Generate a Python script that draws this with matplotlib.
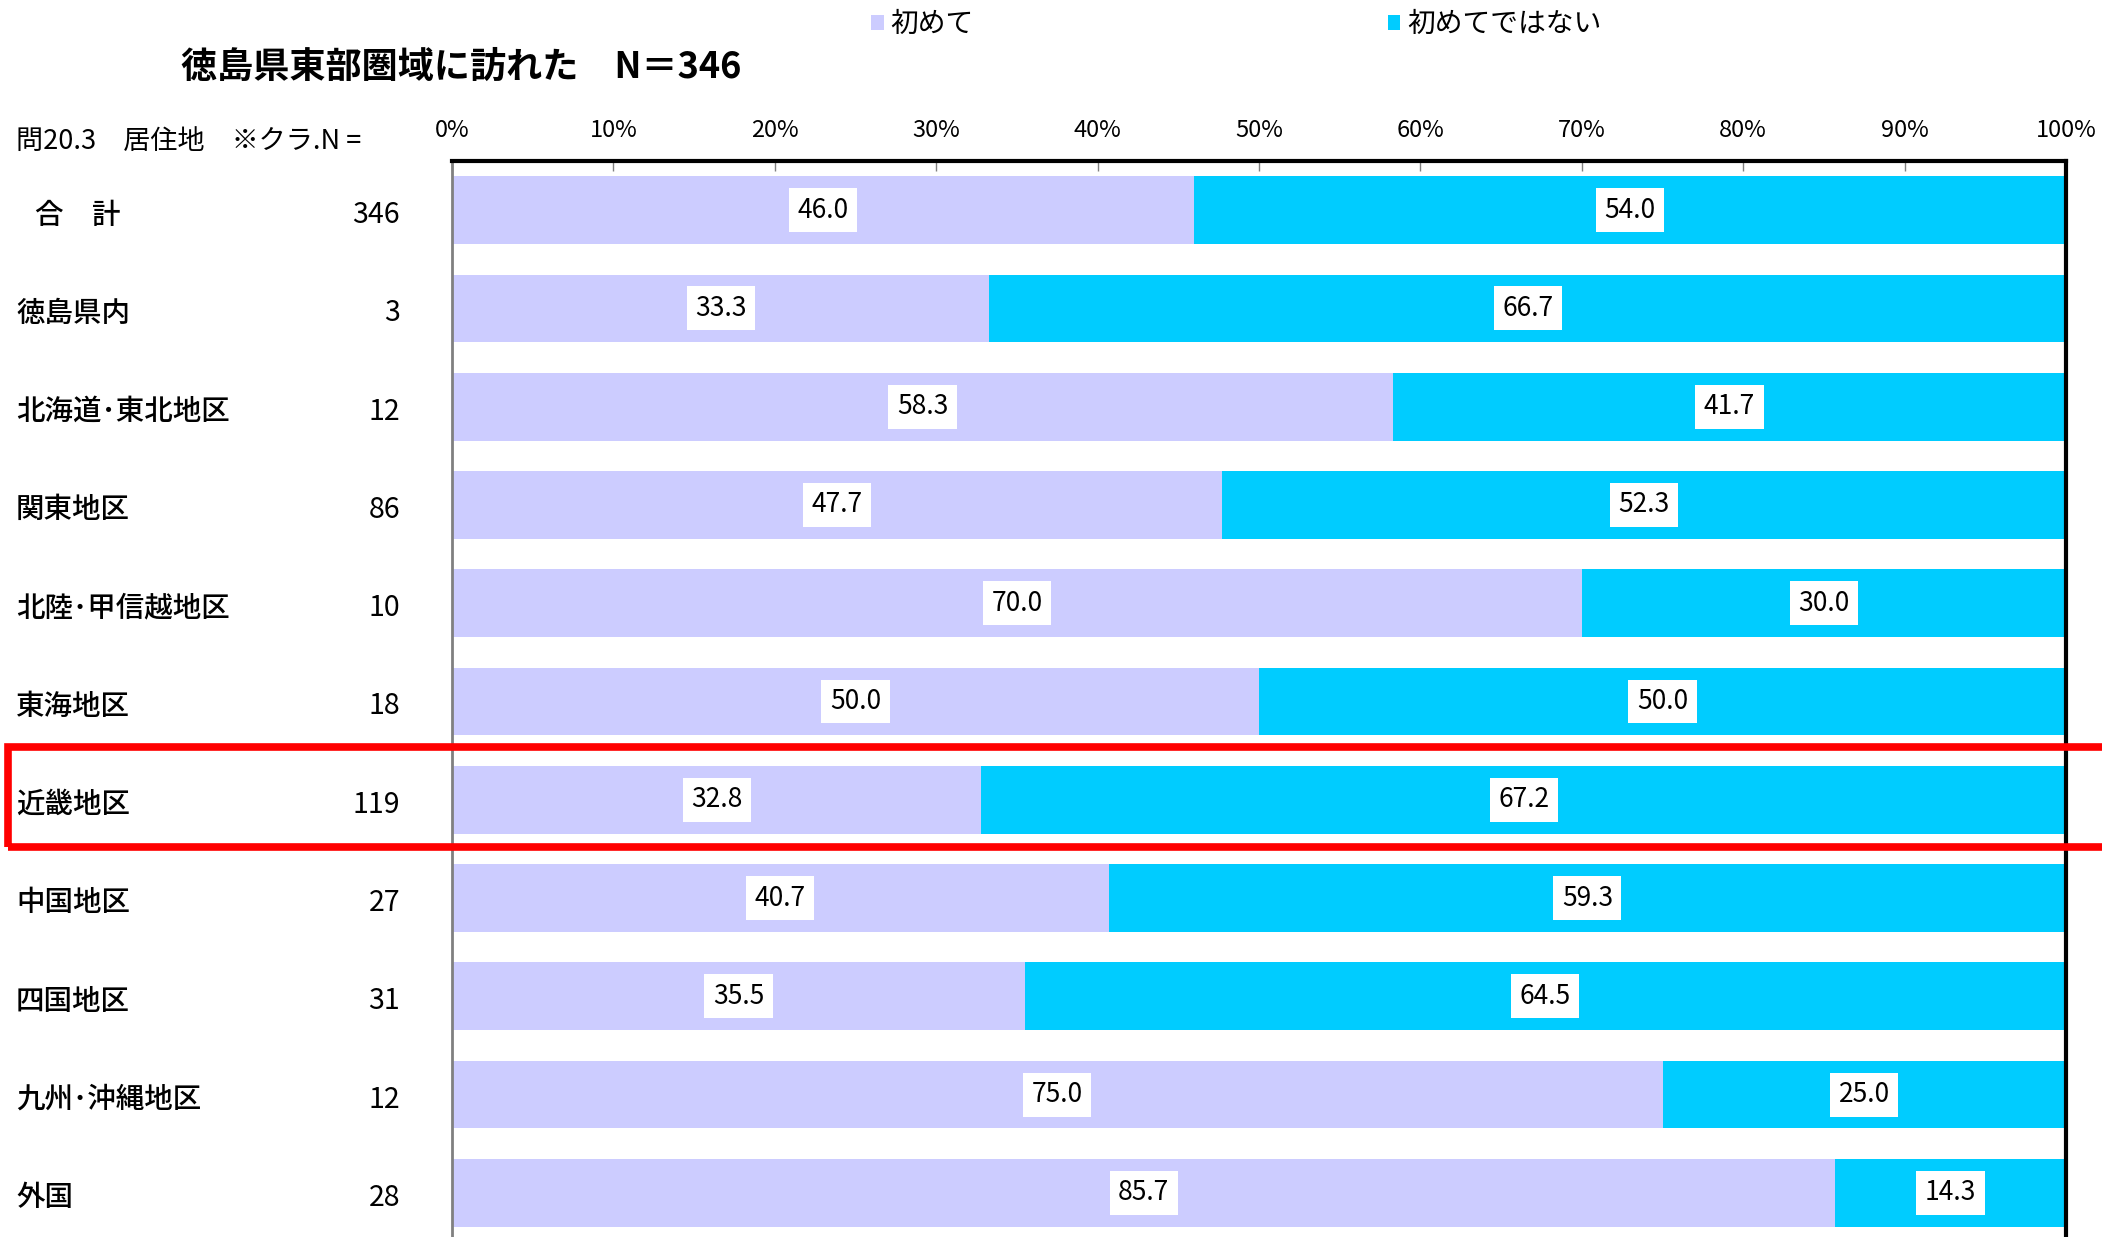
import matplotlib
matplotlib.use("Agg")
import matplotlib.pyplot as plt
import matplotlib.transforms as mtransforms
from matplotlib.patches import Rectangle

plt.rcParams['font.family'] = ['Noto Sans CJK JP', 'DejaVu Sans']

# データ
categories = ['合　計', '徳島県内', '北海道･東北地区', '関東地区', '北陸･甲信越地区',
              '東海地区', '近畿地区', '中国地区', '四国地区', '九州･沖縄地区', '外国']
n_values = [346, 3, 12, 86, 10, 18, 119, 27, 31, 12, 28]
first_time = [46.0, 33.3, 58.3, 47.7, 70.0, 50.0, 32.8, 40.7, 35.5, 75.0, 85.7]
not_first = [54.0, 66.7, 41.7, 52.3, 30.0, 50.0, 67.2, 59.3, 64.5, 25.0, 14.3]
series_names = ['初めて', '初めてではない']
x_ticks = [0, 10, 20, 30, 40, 50, 60, 70, 80, 90, 100]
x_tick_labels = [f'{t}%' for t in x_ticks]

col1 = '#CCCCFF'
col2 = '#00CCFF'

W, H = 2102, 1237
fig = plt.figure(figsize=(W / 100, H / 100), dpi=100)
ax = fig.add_axes([452 / W, 1 - 1242 / H, (2066 - 452) / W, (1242 - 161) / H])

y = list(range(len(categories)))
b1 = ax.barh(y, first_time, height=0.69, color=col1, edgecolor='none')
b2 = ax.barh(y, not_first, left=first_time, height=0.69, color=col2, edgecolor='none')

# 値ラベル
for i in y:
    ax.text(first_time[i] / 2, i, f'{first_time[i]:.1f}', ha='center', va='center',
            fontsize=19, bbox=dict(boxstyle='square,pad=0.32', fc='white', ec='none'))
    ax.text(first_time[i] + not_first[i] / 2, i, f'{not_first[i]:.1f}', ha='center',
            va='center', fontsize=19,
            bbox=dict(boxstyle='square,pad=0.32', fc='white', ec='none'))

ax.set_xlim(0, 100)
ax.set_ylim(len(categories) - 0.5, -0.5)
ax.set_yticks([])
ax.xaxis.tick_top()
ax.set_xticks(x_ticks)
ax.set_xticklabels(x_tick_labels)
ax.tick_params(axis='x', direction='in', length=7, width=1, color='#808080',
               labelsize=17, pad=14)
ax.spines['top'].set_linewidth(3)
ax.spines['top'].set_color('black')
ax.spines['right'].set_linewidth(3)
ax.spines['right'].set_color('black')
ax.spines['left'].set_linewidth(2)
ax.spines['left'].set_color('#808080')
ax.spines['bottom'].set_visible(False)

# 左側の表
trans = mtransforms.blended_transform_factory(fig.transFigure, ax.transData)
for i in y:
    x0 = 35 / W if i == 0 else 16 / W
    ax.text(x0, i + 0.05, categories[i], transform=trans, ha='left', va='center',
            fontsize=20.5, fontweight='medium')
    ax.text(400 / W, i + 0.05, str(n_values[i]), transform=trans, ha='right',
            va='center', fontsize=20.5)

fig.text(16 / W, 1 - 141 / H, '問20.3　居住地　※クラ.N =', ha='left', va='center',
         fontsize=19.5)
fig.text(181 / W, 1 - 67 / H, '徳島県東部圏域に訪れた　N＝346', ha='left',
         va='center', fontsize=26, fontweight='bold')

# 凡例
leg = fig.legend([b1, b2], series_names, loc='center left',
                 bbox_to_anchor=(860 / W, 1 - 24 / H), ncol=2, frameon=False,
                 fontsize=20, handlelength=0.45, handleheight=0.45,
                 handletextpad=0.25, columnspacing=14.9, borderaxespad=0)

# 強調枠
fig.patches.append(Rectangle((8 / W, 1 - 847 / H), (W + 20) / W, (847 - 747) / H,
                             transform=fig.transFigure, fill=False, ec='#FF0000',
                             lw=5.5, clip_on=False))

fig.savefig('out.png', dpi=100)
